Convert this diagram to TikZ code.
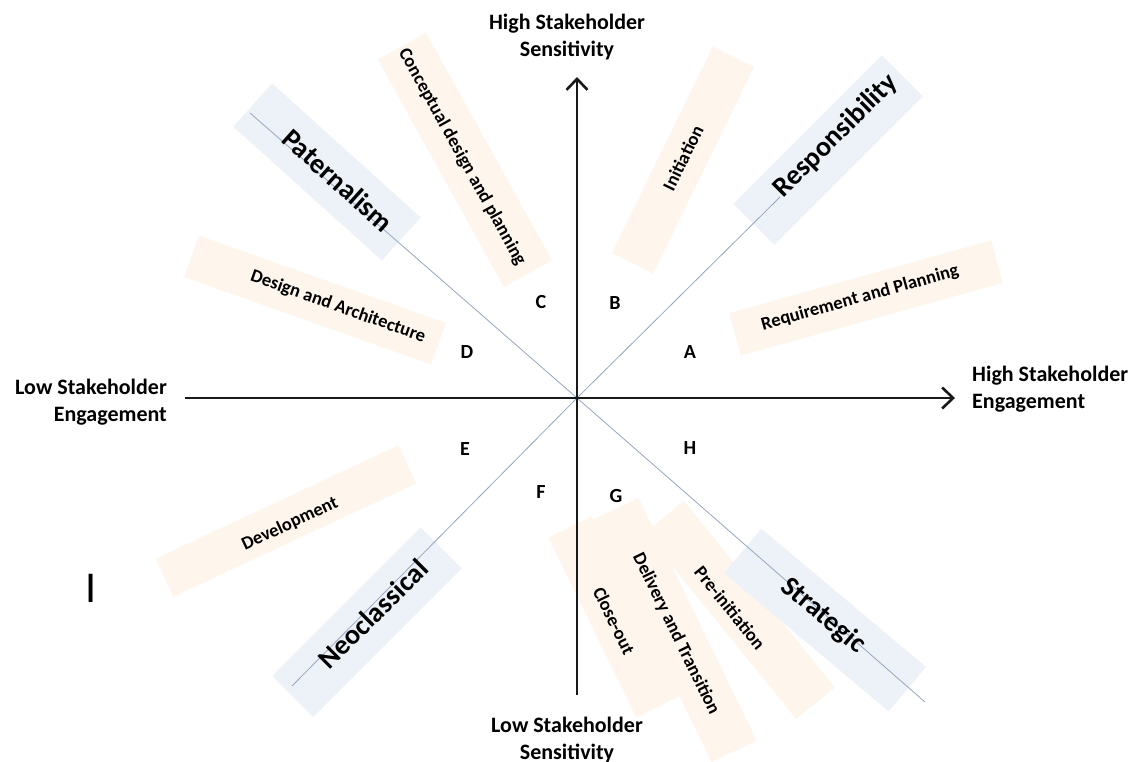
\documentclass[tikz,border=0pt]{standalone}
\usepackage{fontspec}
\setmainfont{Carlito}
\definecolor{phasepeach}{RGB}{254,245,237}
\definecolor{viewblue}{RGB}{237,242,249}
\definecolor{diaggray}{RGB}{150,166,192}
\usepackage{tikz}
\usetikzlibrary{arrows.meta}

\tikzset{
  axisline/.style={line width=2.6pt, color=black!90, -{Straight Barb[length=11pt,width=21pt]}},
  diagline/.style={line width=0.8pt, color=diaggray},
  axislabel/.style={font=\fontsize{22}{27}\selectfont\bfseries, inner sep=0pt},
  phasebox/.style={fill=phasepeach, draw=none, inner sep=0pt},
  viewbox/.style={fill=viewblue, draw=none, inner sep=0pt},
  phasetext/.style={font=\fontsize{18.5}{20}\selectfont\bfseries, inner sep=0pt},
  viewtext/.style={font=\fontsize{28}{30}\selectfont\bfseries, inner sep=0pt},
  zonetext/.style={font=\fontsize{20}{22}\selectfont\bfseries, inner sep=0pt}
}

\begin{document}
\begin{tikzpicture}[x=1pt, y=-1pt]
  \useasboundingbox[fill=white] (0,0) rectangle (1139,761);

  % soft background bands
  \foreach \n/\x/\y/\len/\wid/\ang in {%
    concbox/465/160/260/55/-61,%
    initbox/683/160/230/46/64,%
    designbox/315/300/262/44/-19.5,%
    reqbox/866/298/272/44/15.5,%
    devbox/286/521/268/42/25,%
    prebox/740/610/240/50/-51,%
    delbox/675/630/270/50/-64,%
    closebox/614/617/200/48/-64%
  }{
    \node[phasebox, minimum width=\len pt, minimum height=\wid pt, rotate=\ang] (\n) at (\x,\y) {};
  }
  \foreach \n/\x/\y/\len/\wid/\ang in {%
    patbox/327/172/200/58/-42,%
    respbox/828/150/210/58/45,%
    neobox/367/622/210/58/45,%
    stratbox/825/620/215/58/-40%
  }{
    \node[viewbox, minimum width=\len pt, minimum height=\wid pt, rotate=\ang] (\n) at (\x,\y) {};
  }

  % diagonals and axes
  \coordinate (O) at (577,398);
  \coordinate (nw) at (250,113);
  \coordinate (se) at (925,702);
  \coordinate (ne) at (780,197);
  \coordinate (sw) at (292,686);
  \draw[diagline] (nw) -- (O) -- (se);
  \draw[diagline] (sw) -- (O) -- (ne);

  \coordinate (west) at (185,398);
  \coordinate (east) at (955,398);
  \coordinate (south) at (577,695);
  \coordinate (north) at (577,77);
  \draw[axisline] (west) -- (east);
  \draw[axisline] (south) -- (north);

  \node[axislabel, align=center, anchor=north] (highsens) at (567,14) {High Stakeholder\\Sensitivity};
  \node[axislabel, align=center, anchor=north] (lowsens) at (567,717) {Low Stakeholder\\Sensitivity};
  \node[axislabel, align=right, anchor=north east] (loweng) at (167,379) {Low Stakeholder\\Engagement};
  \node[axislabel, align=left, anchor=north west] (higheng) at (972,366) {High Stakeholder\\Engagement};

  % phase labels
  \foreach \n/\x/\y/\ang/\txt in {%
    conc/462/157/-61/Conceptual design and planning,%
    init/683/158/64/Initiation,%
    design/338/307/-19.5/Design and Architecture,%
    req/860/298/15.5/Requirement and Planning,%
    dev/290/524/25/Development,%
    pre/730/608/-51/Pre-initiation,%
    del/676/634/-64/Delivery and Transition,%
    close/614/621/-64/Close-out%
  }{
    \node[phasetext, rotate=\ang] (\n) at (\x,\y) {\txt};
  }

  % perspective labels
  \foreach \n/\x/\y/\ang/\txt in {%
    pat/338/180/-42/Paternalism,%
    resp/836/136/45/Responsibility,%
    neo/373/614/45/Neoclassical,%
    strat/823/616/-40/Strategic%
  }{
    \node[viewtext, rotate=\ang] (\n) at (\x,\y) {\txt};
  }

  % zones
  \foreach \z/\x/\y in {A/690/352, B/615/303, C/541/302, D/467/352, E/465/449, F/541/492, G/616/496, H/690/448}{
    \node[zonetext] (zone\z) at (\x,\y) {\z};
  }

  \node[font=\fontsize{44}{44}\selectfont, inner sep=0pt] (mark) at (91,588) {I};
\end{tikzpicture}
\end{document}
